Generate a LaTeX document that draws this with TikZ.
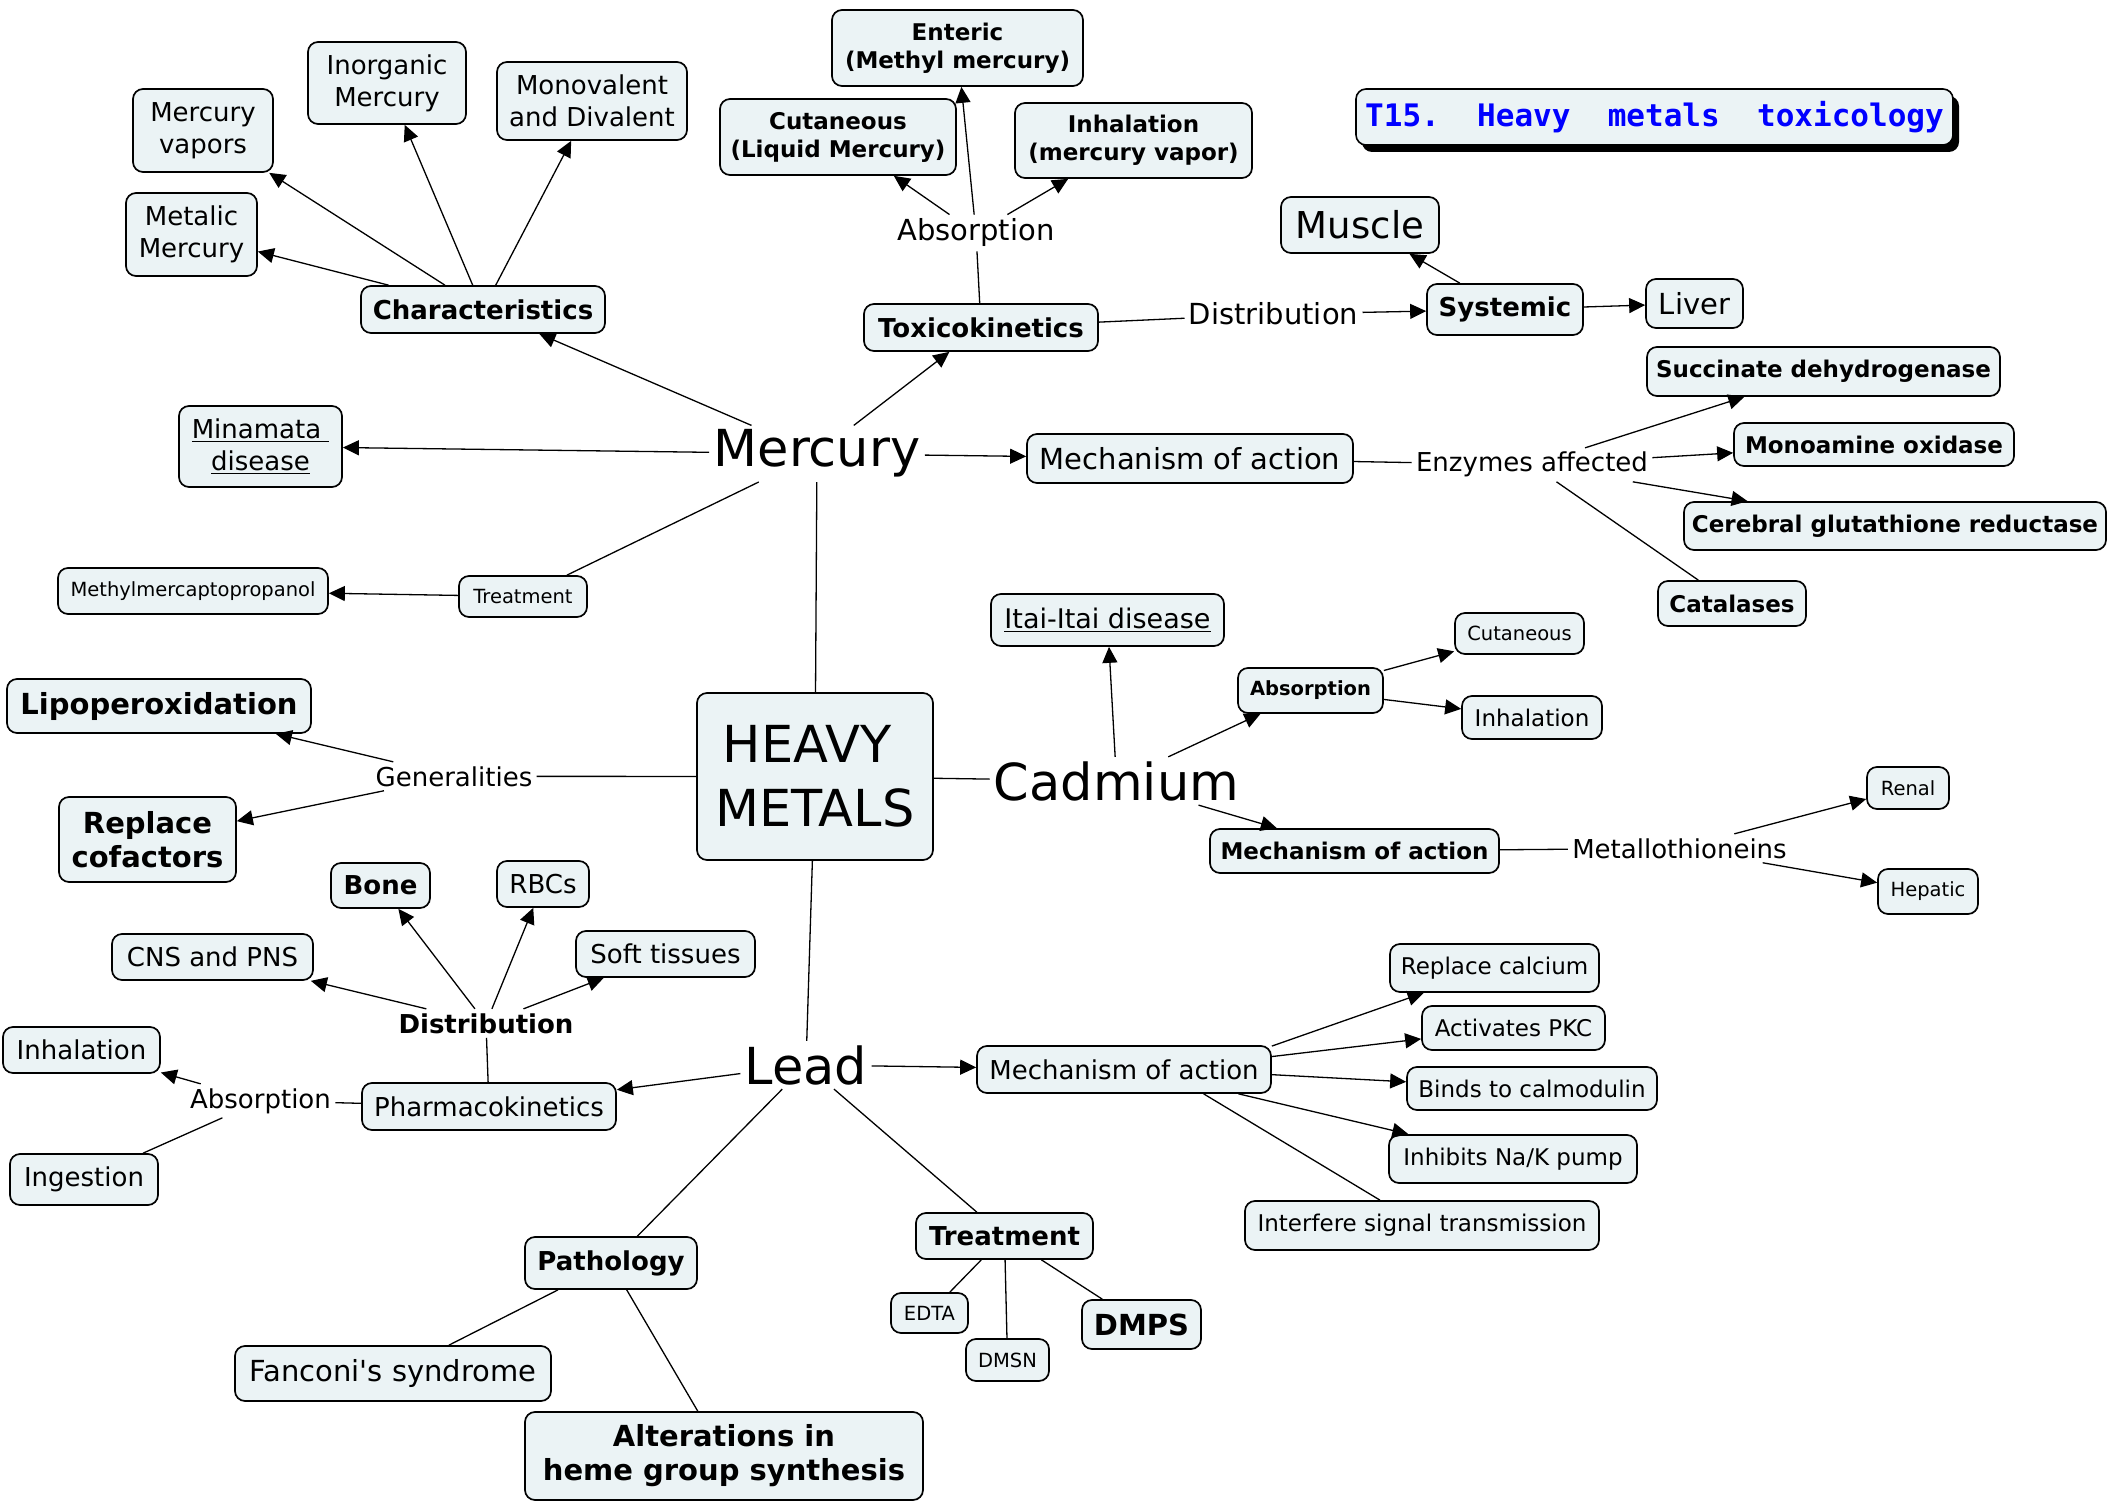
\documentclass[tikz,border=0pt]{standalone}
\usepackage{fontspec}
\setmainfont{DejaVu Sans}[Ligatures=TeXOff]
\newfontfamily\titlemono{DejaVu Sans Mono}
\usetikzlibrary{arrows.meta,shadows}
\definecolor{boxfill}{RGB}{235,243,245}
\definecolor{titleblue}{RGB}{0,0,255}

\begin{document}
\begin{tikzpicture}[x=0.5pt,y=-0.5pt,
  bx/.style 2 args={draw=black, line width=0.85pt, fill=boxfill, rounded corners=5pt,
    align=center, inner sep=0pt, minimum width=#1*0.5pt, minimum height=#2*0.5pt},
  lbl/.style={inner sep=2pt, anchor=base},
  fA/.style={font=\fontsize{9.75pt}{12pt}\selectfont},
  fAb/.style={font=\fontsize{9.75pt}{12pt}\selectfont\bfseries},
  fB/.style={font=\fontsize{11.5pt}{14pt}\selectfont},
  fBb/.style={font=\fontsize{11.5pt}{14pt}\selectfont\bfseries},
  fC/.style={font=\fontsize{13pt}{16pt}\selectfont},
  fCb/.style={font=\fontsize{13pt}{16pt}\selectfont\bfseries},
  fD/.style={font=\fontsize{14.5pt}{17pt}\selectfont},
  fDb/.style={font=\fontsize{14.5pt}{17pt}\selectfont\bfseries},
  fE/.style={font=\fontsize{18.5pt}{22pt}\selectfont},
  fF/.style={font=\fontsize{25.5pt}{32pt}\selectfont},
  ln/.style={line width=0.65pt},
  ar/.style={line width=0.65pt, -{Triangle[length=8pt,width=7.5pt]}}
]
\fill[white] (0,0) rectangle (2110,1502);
\useasboundingbox (0,0) rectangle (2110,1502);

% title
\node[bx={597}{56}, line width=0.8pt,
  general shadow={fill=black, shadow xshift=3pt, shadow yshift=-3.5pt},
  font=\titlemono\bfseries\fontsize{15.5pt}{18pt}\selectfont, text=titleblue]
  (title) at (1654.5,117) {T15.\ \ Heavy\ \ metals\ \ toxicology};

% hub and the three metals
\node[bx={236}{167}, fF] (hm) at (815,776.5) {HEAVY\rule{8pt}{0pt}\\METALS};
\node[lbl, fF] (hg) at (817,467) {Mercury};
\node[lbl, fF] (cd) at (1116.5,800) {Cadmium};
\node[lbl, fF] (pb) at (806,1084) {Lead};

% mercury
\node[bx={244}{47}, fCb] (char) at (483,309.5) {Characteristics};
\node[bx={131}{83}, fC] (metalic) at (191.5,234.5) {Metalic\\Mercury};
\node[bx={140}{83}, fC] (vapors) at (203,130.5) {Mercury\\vapors};
\node[bx={158}{82}, fC] (inorg) at (387,83) {Inorganic\\Mercury};
\node[bx={190}{78}, fC] (monodi) at (592,101) {Monovalent\\and Divalent};
\node[bx={163}{81}, fC] (minamata) at (260.5,446.5) {\underline{Minamata\rule{4pt}{0pt}}\\\underline{disease}};
\node[bx={270}{46}, fA] (mmp) at (193,591) {Methylmercaptopropanol};
\node[bx={128}{41}, fA] (treathg) at (523,596.5) {Treatment};
\node[bx={234}{47}, fCb] (toxico) at (981,327.5) {Toxicokinetics};
\node[lbl, fD] (abshg) at (976,241) {Absorption};
\node[bx={251}{76}, fBb] (enteric) at (957.5,48) {Enteric\\(Methyl mercury)};
\node[bx={236}{76}, fBb] (cutliq) at (838,137) {Cutaneous\\(Liquid Mercury)};
\node[bx={237}{75}, fBb] (inhvap) at (1133.5,140.5) {Inhalation\\(mercury vapor)};
\node[lbl, fD] (disthg) at (1273.5,325) {Distribution};
\node[bx={156}{51}, fCb] (systemic) at (1505,309.5) {Systemic};
\node[bx={158}{56}, fE] (muscle) at (1360,225) {Muscle};
\node[bx={97}{49}, fD] (liver) at (1694.5,303.5) {Liver};
\node[bx={326}{49}, fD] (mechhg) at (1190,458.5) {Mechanism of action};
\node[lbl, fC] (enzymes) at (1532,472) {Enzymes affected};
\node[bx={353}{49}, fBb] (succ) at (1823.5,371.5) {Succinate dehydrogenase};
\node[bx={280}{43}, fBb] (mao) at (1874,444.5) {Monoamine oxidase};
\node[bx={422}{48}, fBb] (cgr) at (1895,526) {Cerebral glutathione reductase};
\node[bx={148}{45}, fBb] (catal) at (1732,603.5) {Catalases};

% generalities
\node[lbl, fC] (gen) at (454,786) {Generalities};
\node[bx={304}{54}, fDb] (lipo) at (159,706) {Lipoperoxidation};
\node[bx={177}{85}, fDb] (cofac) at (147.5,839.5) {Replace\\cofactors};

% cadmium
\node[bx={233}{52}, font=\fontsize{13.5pt}{16pt}\selectfont] (itai) at (1107.5,620) {\underline{Itai-Itai disease}};
\node[bx={145}{45}, fAb] (abscd) at (1310.5,690.5) {Absorption};
\node[bx={129}{41}, fA] (cutcd) at (1519.5,633.5) {Cutaneous};
\node[bx={140}{43}, fB] (inhcd) at (1532,717.5) {Inhalation};
\node[bx={289}{44}, fBb] (mechcd) at (1354.5,851) {Mechanism of action};
\node[lbl, fC] (metallo) at (1679.5,858) {Metallothioneins};
\node[bx={82}{42}, fA] (renal) at (1908,788) {Renal};
\node[bx={100}{45}, fA] (hepatic) at (1928,891.5) {Hepatic};

% lead
\node[bx={254}{47}, fC] (pharma) at (489,1106.5) {Pharmacokinetics};
\node[lbl, fCb] (distpb) at (486,1033) {Distribution};
\node[bx={201}{46}, fC] (cns) at (212.5,957) {CNS and PNS};
\node[bx={99}{45}, fCb] (bone) at (380.5,885.5) {Bone};
\node[bx={92}{46}, fC] (rbc) at (543,884) {RBCs};
\node[bx={179}{46}, fC] (soft) at (665.5,954) {Soft tissues};
\node[lbl, fC] (abspb) at (260.5,1108) {Absorption};
\node[bx={157}{46}, fC] (inhpb) at (81.5,1050) {Inhalation};
\node[bx={148}{51}, fC] (ingest) at (84,1179.5) {Ingestion};
\node[bx={294}{47}, fC] (mechpb) at (1124,1069.5) {Mechanism of action};
\node[bx={209}{48}, fB] (repca) at (1494.5,968) {Replace calcium};
\node[bx={183}{44}, fB] (pkc) at (1513.5,1028) {Activates PKC};
\node[bx={250}{43}, fB] (calmod) at (1532,1088.5) {Binds to calmodulin};
\node[bx={248}{48}, fB] (nak) at (1513,1159) {Inhibits Na/K pump};
\node[bx={354}{49}, fB] (signal) at (1422,1225.5) {Interfere signal transmission};
\node[bx={172}{52}, fCb] (patho) at (611,1263) {Pathology};
\node[bx={316}{55}, fD] (fanconi) at (393,1373.5) {Fanconi's syndrome};
\node[bx={398}{88}, fDb] (heme) at (724,1456) {Alterations in\\heme group synthesis};
\node[bx={177}{46}, fCb] (treatpb) at (1004.5,1236) {Treatment};
\node[bx={77}{40}, fA] (edta) at (929.5,1313) {EDTA};
\node[bx={83}{42}, fA] (dmsn) at (1007.5,1360) {DMSN};
\node[bx={119}{49}, fDb] (dmps) at (1141.5,1324.5) {DMPS};

% connectors: mercury
\draw[ln] (hm) -- (hg);
\draw[ar] (hg) -- (char);
\draw[ar] (hg) -- (minamata);
\draw[ar] (hg) -- (toxico);
\draw[ar] (hg) -- (mechhg);
\draw[ln] (hg) -- (treathg);
\draw[ar] (treathg) -- (mmp);
\draw[ar] (char) -- (metalic);
\draw[ar] (char) -- (vapors);
\draw[ar] (char) -- (inorg);
\draw[ar] (char) -- (monodi);
\draw[ln] (toxico) -- (abshg);
\draw[ar] (abshg) -- (cutliq);
\draw[ar] (abshg) -- (enteric);
\draw[ar] (abshg) -- (inhvap);
\draw[ln] (toxico) -- (disthg);
\draw[ar] (disthg) -- (systemic);
\draw[ar] (systemic) -- (muscle);
\draw[ar] (systemic) -- (liver);
\draw[ln] (mechhg) -- (enzymes);
\draw[ar] (enzymes) -- (succ);
\draw[ar] (enzymes) -- (mao);
\draw[ar] (enzymes) -- (cgr);
\draw[ln] (enzymes) -- (catal);

% connectors: generalities
\draw[ln] (hm) -- (gen);
\draw[ar] (gen) -- (lipo);
\draw[ar] (gen) -- (cofac);

% connectors: cadmium
\draw[ln] (hm) -- (cd);
\draw[ar] (cd) -- (itai);
\draw[ar] (cd) -- (abscd);
\draw[ar] (cd) -- (mechcd);
\draw[ar] (abscd) -- (cutcd);
\draw[ar] (abscd) -- (inhcd);
\draw[ln] (mechcd) -- (metallo);
\draw[ar] (metallo) -- (renal);
\draw[ar] (metallo) -- (hepatic);

% connectors: lead
\draw[ln] (hm) -- (pb);
\draw[ar] (pb) -- (pharma);
\draw[ar] (pb) -- (mechpb);
\draw[ln] (pb) -- (patho);
\draw[ln] (pb) -- (treatpb);
\draw[ln] (pharma) -- (distpb);
\draw[ar] (distpb) -- (cns);
\draw[ar] (distpb) -- (bone);
\draw[ar] (distpb) -- (rbc);
\draw[ar] (distpb) -- (soft);
\draw[ln] (pharma) -- (abspb);
\draw[ar] (abspb) -- (inhpb);
\draw[ln] (abspb) -- (ingest);
\draw[ar] (mechpb.9.5) -- (repca);
\draw[ar] (mechpb.5.6) -- (pkc);
\draw[ar] (mechpb.-2.5) -- (calmod);
\draw[ar] (mechpb.-12) -- (nak);
\draw[ln] (mechpb.-17.6) -- (signal);
\draw[ln] (patho) -- (fanconi);
\draw[ln] (patho) -- (heme);
\draw[ln] (treatpb) -- (edta);
\draw[ln] (treatpb) -- (dmsn);
\draw[ln] (treatpb) -- (dmps);
\end{tikzpicture}
\end{document}
